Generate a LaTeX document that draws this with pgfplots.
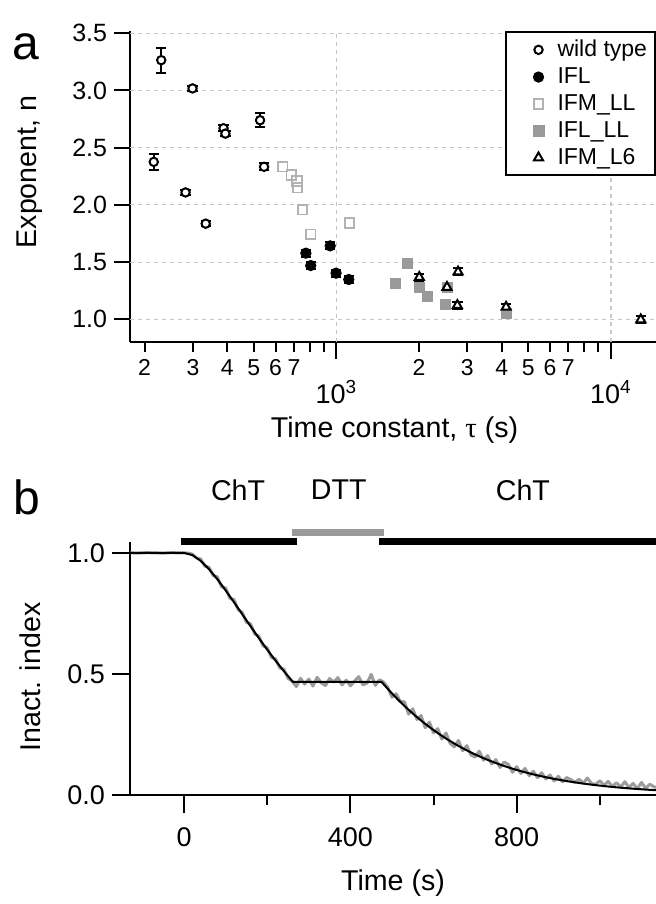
\documentclass[border=0pt]{standalone}
\usepackage{fontspec}
\setmainfont{Liberation Sans}
\newfontfamily\serif{Liberation Serif}
\usepackage{pgfplots}
\pgfplotsset{compat=1.18}
\definecolor{ltgray}{HTML}{B2B2B2}
\definecolor{mdgray}{HTML}{9A9A9A}
\definecolor{trgray}{HTML}{9C9C9C}
\definecolor{gridgray}{HTML}{C8C8C8}

\pgfplotsset{
  igor/.style={
    scale only axis, width=263pt,
    axis lines=left, axis line style={-, line width=1pt},
    tick align=outside,
    every tick/.append style={line width=1pt, black},
    major tick length=8.5pt, minor tick length=5pt,
    /pgf/number format/assume math mode=true,
    grid style={gridgray, line width=0.6pt, dash pattern=on 2pt off 2pt},
    label style={font=\fontsize{14.3}{16}\selectfont},
  },
  ebars/.style={error bars/.cd, y dir=both, y explicit,
    error bar style={line width=1pt, black},
    error mark options={rotate=90, line width=1pt, mark size=2.6pt, black}},
}

\begin{document}
\begin{tikzpicture}
\useasboundingbox (0,0) rectangle (328pt,452pt);

% panel a
\begin{axis}[igor, at={(65pt,280.9pt)}, anchor=south west, height=155.6pt,
  xmode=log, xmin=177, xmax=14600, ymin=0.8, ymax=3.52,
  major tick length=5pt,
  xtick={200,300,400,500,600,700,2000,3000,4000,5000,6000,7000},
  xticklabels={2,3,4,5,6,7,2,3,4,5,6,7},
  minor xtick={800,900,8000,9000},
  xticklabel style={font=\fontsize{11.5}{13}\selectfont},
  extra x ticks={1000,10000},
  extra x tick labels={10\textsuperscript{3},10\textsuperscript{4}},
  extra x tick style={major tick length=8.5pt, xmajorgrids=true,
    xticklabel style={font=\fontsize{13.5}{15}\selectfont, yshift=-7pt}},
  ytick=\empty,
  extra y ticks={1,1.5,2,2.5,3,3.5},
  extra y tick labels={1.0,1.5,2.0,2.5,3.0,3.5},
  extra y tick style={major tick length=8pt, ymajorgrids=true,
    yticklabel style={font=\fontsize{12.5}{14}\selectfont}},
  xlabel={Time constant, {\serif τ} (s)},
  xlabel style={at={(axis description cs:0.503,-0.282)}, anchor=center},
  ylabel={Exponent, n},
  ylabel style={at={(axis description cs:-0.19,0.547)}, anchor=center},
  legend image code/.code={\path (0pt,0pt) (17pt,0pt); \draw[#1] plot coordinates {(14pt,0pt)};},
  legend style={at={(1,1)}, anchor=north east, draw=black, line width=1pt,
    font=\fontsize{11.5}{13.5}\selectfont, row sep=0pt, inner xsep=2pt, inner ysep=2pt,
    /tikz/every odd column/.append style={column sep=4pt}},
  legend cell align=left,
]
\addplot[only marks, mark=*, mark size=2.1pt, mark options={fill=white, draw=black, line width=1pt}, ebars]
  coordinates {
  (230,3.265) +- (0,0.11)
  (299,3.018) +- (0,0.02)
  (388,2.670) +- (0,0.025)
  (394,2.623) +- (0,0.025)
  (527,2.740) +- (0,0.06)
  (216,2.376) +- (0,0.07)
  (282,2.109) +- (0,0.025)
  (334,1.836) +- (0,0.02)
  (545,2.333) +- (0,0.03)
};
\addlegendentry{wild type}
\addplot[only marks, mark=*, mark size=2.3pt, mark options={fill=black, draw=black, line width=1pt}, ebars]
  coordinates {
  (774,1.578) +- (0,0.03)
  (806,1.470) +- (0,0.03)
  (949,1.642) +- (0,0.03)
  (997,1.403) +- (0,0.03)
  (1109,1.348) +- (0,0.03)
};
\addlegendentry{IFL}
\addplot[only marks, mark=square, mark size=2.4pt, mark options={draw=ltgray, line width=0.9pt}]
  coordinates {
  (637,2.333) (685,2.260) (719,2.210) (721,2.150) (752,1.958) (806,1.743) (1115,1.842)
};
\addlegendentry{IFM\_LL}
\addplot[only marks, mark=square*, mark size=2.5pt, mark options={fill=mdgray, draw=mdgray}]
  coordinates {
  (1641,1.316) (1820,1.485) (2010,1.276) (2141,1.203) (2500,1.133) (2528,1.281) (4170,1.050)
};
\addlegendentry{IFL\_LL}
\addplot[only marks, mark=triangle*, mark size=2.6pt, mark options={fill=white, draw=black, line width=1pt}, ebars]
  coordinates {
  (2004,1.368) +- (0,0.03)
  (2528,1.281) +- (0,0.03)
  (2775,1.415) +- (0,0.03)
  (2757,1.122) +- (0,0.03)
  (4150,1.107) +- (0,0.03)
  (12850,0.997) +- (0,0.03)
};
\addlegendentry{IFM\_L6}
\end{axis}

% panel b
\begin{axis}[igor, at={(65pt,54.5pt)}, anchor=south west, height=126.5pt,
  xmin=-130, xmax=1135, ymin=0, ymax=1.045, clip=false,
  xtick={0,400,800}, xticklabels={0,400,800},
  minor xtick={200,600,1000},
  major tick length=9pt,
  ytick={0,0.5,1}, yticklabels={0.0,0.5,1.0},
  tick label style={font=\fontsize{13.5}{15}\selectfont},
  xticklabel style={yshift=-4pt},
  xlabel={Time (s)},
  xlabel style={at={(axis description cs:0.5,-0.348)}, anchor=center},
  ylabel={Inact. index},
  ylabel style={at={(axis description cs:-0.19,0.466)}, anchor=center},
]
% solution exchange bars
\addplot[black, line width=3.6pt, line cap=butt] coordinates {(-8,1.047) (272,1.047)};
\addplot[mdgray, line width=3.6pt, line cap=butt] coordinates {(260,1.083) (481,1.083)};
\addplot[black, line width=3.6pt, line cap=butt] coordinates {(469,1.047) (1135,1.047)};
% recorded trace
\addplot[trgray, line width=1.5pt, line join=round] coordinates {
  (-130,1.000) (-110,0.999) (-90,1.001) (-70,1.000) (-50,0.999) (-30,1.001) (-10,1.000)
  (0,1.000) (10,0.999) (20,0.995) (30,0.979) (40,0.975) (50,0.945) (60,0.941)
  (70,0.906) (80,0.901) (90,0.860) (100,0.855) (110,0.813) (120,0.807) (130,0.766)
  (140,0.754) (150,0.713) (160,0.707) (170,0.665) (180,0.656) (190,0.616) (200,0.608)
  (210,0.568) (220,0.563) (230,0.525) (240,0.520) (250,0.482) (260,0.470)
  (270,0.448) (280,0.482) (290,0.458) (300,0.479) (310,0.450) (320,0.486) (330,0.463)
  (340,0.452) (350,0.481) (360,0.466) (370,0.485) (380,0.455) (390,0.474) (400,0.451)
  (410,0.470) (420,0.489) (430,0.455) (440,0.462) (450,0.498) (460,0.453) (470,0.476)
  (480,0.466) (490,0.445) (500,0.404) (510,0.418) (520,0.386) (530,0.385) (540,0.334)
  (550,0.356) (560,0.312) (570,0.328) (580,0.278) (590,0.301) (600,0.257) (610,0.274)
  (620,0.231) (630,0.256) (640,0.213) (650,0.199) (660,0.225) (670,0.183) (680,0.204)
  (690,0.165) (700,0.157) (710,0.181) (720,0.144) (730,0.163) (740,0.128) (750,0.146)
  (760,0.114) (770,0.136) (780,0.126) (790,0.094) (800,0.117) (810,0.089) (820,0.110)
  (830,0.080) (840,0.098) (850,0.072) (860,0.092) (870,0.066) (880,0.083) (890,0.058)
  (900,0.077) (910,0.055) (920,0.072) (930,0.064) (940,0.052) (950,0.065) (960,0.049)
  (970,0.070) (980,0.047) (990,0.044) (1000,0.059) (1010,0.040) (1020,0.056) (1030,0.035)
  (1040,0.051) (1050,0.033) (1060,0.055) (1070,0.031) (1080,0.048) (1090,0.026)
  (1100,0.052) (1110,0.028) (1120,0.044) (1135,0.030)
};
% fit
\addplot[black, line width=1pt, line join=round] coordinates {
  (-130,1) (0,1) (20,0.9909) (40,0.9671) (60,0.9328) (80,0.8913) (100,0.8452)
  (120,0.7964) (140,0.7466) (160,0.6968) (180,0.6478) (200,0.6004) (220,0.5550)
  (240,0.5117) (260,0.4708) (262,0.467) (475,0.467) (495,0.4286) (515,0.3930)
  (535,0.3598) (555,0.3291) (575,0.3006) (595,0.2743) (615,0.2500) (635,0.2278)
  (655,0.2074) (675,0.1887) (695,0.1716) (715,0.1559) (735,0.1417) (755,0.1287)
  (775,0.1168) (795,0.1060) (815,0.0962) (835,0.0872) (855,0.0791) (875,0.0717)
  (895,0.0650) (915,0.0589) (935,0.0534) (955,0.0484) (975,0.0438) (995,0.0397)
  (1015,0.0360) (1035,0.0325) (1055,0.0295) (1075,0.0267) (1095,0.0242)
  (1115,0.0219) (1135,0.0198)
};
\node[font=\fontsize{14.3}{16}\selectfont] at (axis cs:130,1.26) {ChT};
\node[font=\fontsize{14.3}{16}\selectfont] at (axis cs:372,1.26) {DTT};
\node[font=\fontsize{14.3}{16}\selectfont] at (axis cs:815,1.26) {ChT};
\end{axis}

\node[font=\fontsize{24}{26}\selectfont] at (13pt,428.5pt) {a};
\node[font=\fontsize{24}{26}\selectfont] at (13.5pt,203.5pt) {b};
\end{tikzpicture}
\end{document}
